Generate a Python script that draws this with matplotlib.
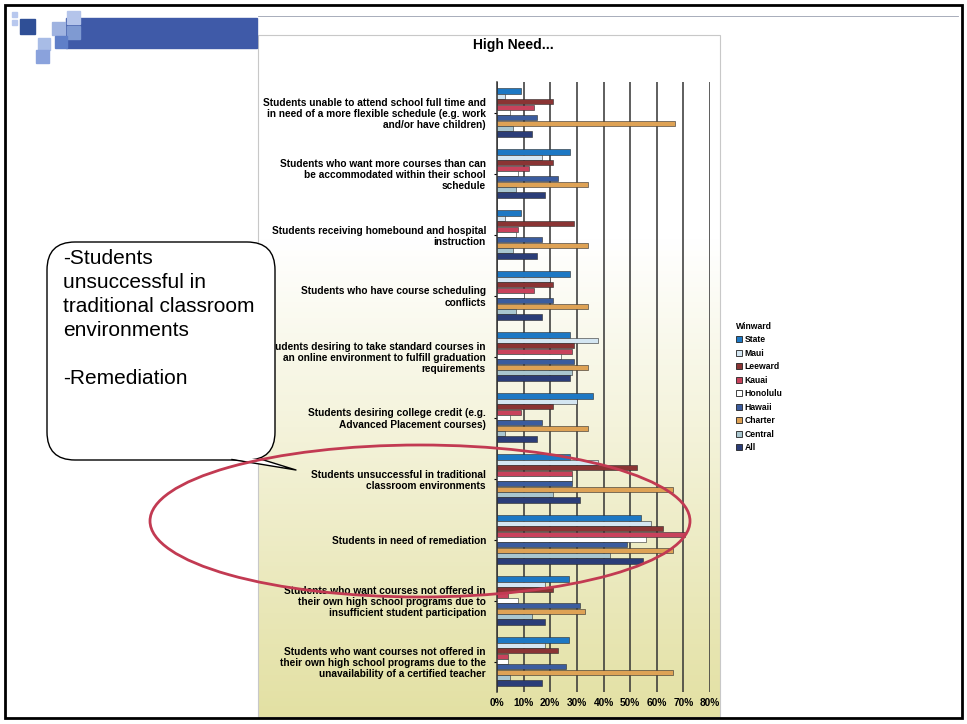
import numpy as np
import matplotlib.pyplot as plt
from matplotlib.patches import Rectangle, FancyBboxPatch, Ellipse, Polygon, Patch

plt.rcParams['font.family'] = ['Liberation Sans', 'DejaVu Sans']

categories = [
    "Students unable to attend school full time and\nin need of a more flexible schedule (e.g. work\nand/or have children)",
    "Students who want more courses than can\nbe accommodated within their school\nschedule",
    "Students receiving homebound and hospital\ninstruction",
    "Students who have course scheduling\nconflicts",
    "Students desiring to take standard courses in\nan online environment to fulfill graduation\nrequirements",
    "Students desiring college credit (e.g.\nAdvanced Placement courses)",
    "Students unsuccessful in traditional\nclassroom environments",
    "Students in need of remediation",
    "Students who want courses not offered in\ntheir own high school programs due to\ninsufficient student participation",
    "Students who want courses not offered in\ntheir own high school programs due to the\nunavailability of a certified teacher",
]

series_names = ["State", "Maui", "Leeward", "Kauai", "Honolulu", "Hawaii", "Charter", "Central", "All"]
state    = [9, 27.5, 9, 27.5, 27.5, 36, 27.5, 54, 27, 27]
maui     = [3, 17, 3, 20, 38, 30, 38, 58, 18, 18]
leeward  = [21, 21, 29, 21, 29, 21, 52.5, 62.5, 21, 23]
kauai    = [14, 12, 8, 14, 28, 9, 28, 70.7, 4, 4]
honolulu = [5, 8, 7, 10, 24, 5, 28, 56, 8, 4]
hawaii   = [15, 23, 17, 21, 29, 17, 28, 49, 31, 26]
charter  = [67, 34, 34, 34, 34, 34, 66, 66, 33, 66]
central  = [6, 7, 6, 7, 28, 3, 21, 42.5, 13, 5]
all_     = [13, 18, 15, 17, 27.5, 15, 31, 55, 18, 17]
values = [state, maui, leeward, kauai, honolulu, hawaii, charter, central, all_]
colors = ["#1d78c4", "#d4e6f2", "#8a3434", "#c8425c", "#ffffff", "#3b5c9e", "#dea255", "#a9c6cf", "#2b3d78"]

xticks = [0, 10, 20, 30, 40, 50, 60, 70, 80]
xticklabels = [f"{t}%" for t in xticks]

W, H = 967, 724
fig = plt.figure(figsize=(W / 100, H / 100), dpi=100)

# background layer (slide decoration + chart area gradient)
bg = fig.add_axes([0, 0, 1, 1], zorder=0)
bg.set_xlim(0, W)
bg.set_ylim(H, 0)
bg.axis('off')
grad = np.linspace(0, 1, 256).reshape(-1, 1)
grad = np.clip((grad - 0.3) / 0.7, 0, 1)
top = np.array([1.0, 1.0, 1.0])
bot = np.array([0.89, 0.88, 0.64])
img = top + grad[..., None] * (bot - top)
img = np.repeat(img, 2, axis=1)
bg.imshow(img, extent=(258, 720, 717, 35), aspect='auto', zorder=1)
bg.add_patch(Rectangle((258, 35), 462, 682, fill=False, ec="#c8c8c8", lw=0.8, zorder=2))
bg.add_patch(Rectangle((5, 5), 957, 713, fill=False, ec="black", lw=2, zorder=3))
bg.plot([258, 958], [16, 16], color="#9aa0b0", lw=0.6, zorder=2)
# logo squares and banner
bg.add_patch(Rectangle((66, 18), 191, 30, color="#3f5aa8", zorder=2))
for (x, y, s, c) in [(20, 19, 15, "#2f4f96"), (52, 22, 13, "#9fb3e0"), (67, 11, 13, "#b4c4ea"),
                     (67, 26, 13, "#7f9ad2"), (38, 38, 12, "#a8bce6"), (55, 36, 12, "#5f7fc8"),
                     (36, 50, 13, "#8aa2dc"), (12, 12, 5, "#b8c8ee"), (12, 20, 5, "#b8c8ee")]:
    bg.add_patch(Rectangle((x, y), s, s, color=c, zorder=3))

# chart axes
ax = fig.add_axes([497 / W, 1 - 692 / H, (710 - 497) / W, (692 - 82) / H], zorder=1)
ax.set_facecolor('none')
n = len(categories)
y = np.arange(n)
bh = 0.088
for j, (vals, col) in enumerate(zip(values, colors)):
    ax.barh(y + (j - 4) * bh, vals, height=bh * 0.95, color=col, edgecolor="#2a2a2a",
            linewidth=0.4, label=series_names[j], zorder=3)
ax.set_xlim(0, 80)
ax.set_ylim(n - 0.5, -0.5)
ax.set_xticks(xticks)
ax.set_xticklabels(xticklabels, fontsize=7.3, fontweight='bold')
ax.set_yticks(y)
ax.set_yticklabels(categories, fontsize=7.3, fontweight='bold', linespacing=1.15)
ax.tick_params(axis='y', length=2, pad=6)
ax.tick_params(axis='x', length=0, pad=4)
ax.grid(axis='x', color="#333333", lw=1.1, zorder=1)
for s in ['top', 'right', 'bottom']:
    ax.spines[s].set_visible(False)
ax.spines['left'].set_color("#333333")
ax.spines['left'].set_linewidth(1.1)

fig.text(513 / W, 1 - 45 / H, "High Need...", ha='center', va='center', fontsize=10, fontweight='bold')

handles = [Patch(facecolor=c, edgecolor="#222222", lw=0.6) for c in colors]
leg = fig.legend(handles, series_names, loc='upper left', bbox_to_anchor=(728 / W, 1 - 314 / H),
                 frameon=False, prop={'size': 6.2, 'weight': 'bold'}, title="Winward",
                 title_fontproperties={'size': 6.2, 'weight': 'bold'}, alignment='left',
                 handlelength=0.7, handleheight=0.7, handletextpad=0.3, labelspacing=0.52)

# overlay: callout and ellipse
ov = fig.add_axes([0, 0, 1, 1], zorder=5)
ov.set_xlim(0, W)
ov.set_ylim(H, 0)
ov.axis('off')
ov.set_facecolor('none')
ov.add_patch(FancyBboxPatch((47, 242), 228, 218, boxstyle="round,pad=0,rounding_size=28",
                            fc="white", ec="black", lw=1.0, zorder=5))
ov.add_patch(Polygon([[232, 459], [262, 459], [296, 470]], closed=True, fc="white", ec="none", zorder=6))
ov.plot([232, 296, 262], [459.5, 470, 459.5], color="black", lw=1.0, zorder=7)
ov.text(63, 249, "-Students\nunsuccessful in\ntraditional classroom\nenvironments\n\n-Remediation",
        ha='left', va='top', fontsize=15, linespacing=1.34, zorder=8)
ov.add_patch(Ellipse((420, 521), 540, 152, fill=False, ec="#c23a52", lw=2, zorder=8))

fig.savefig("out.png", dpi=100)
